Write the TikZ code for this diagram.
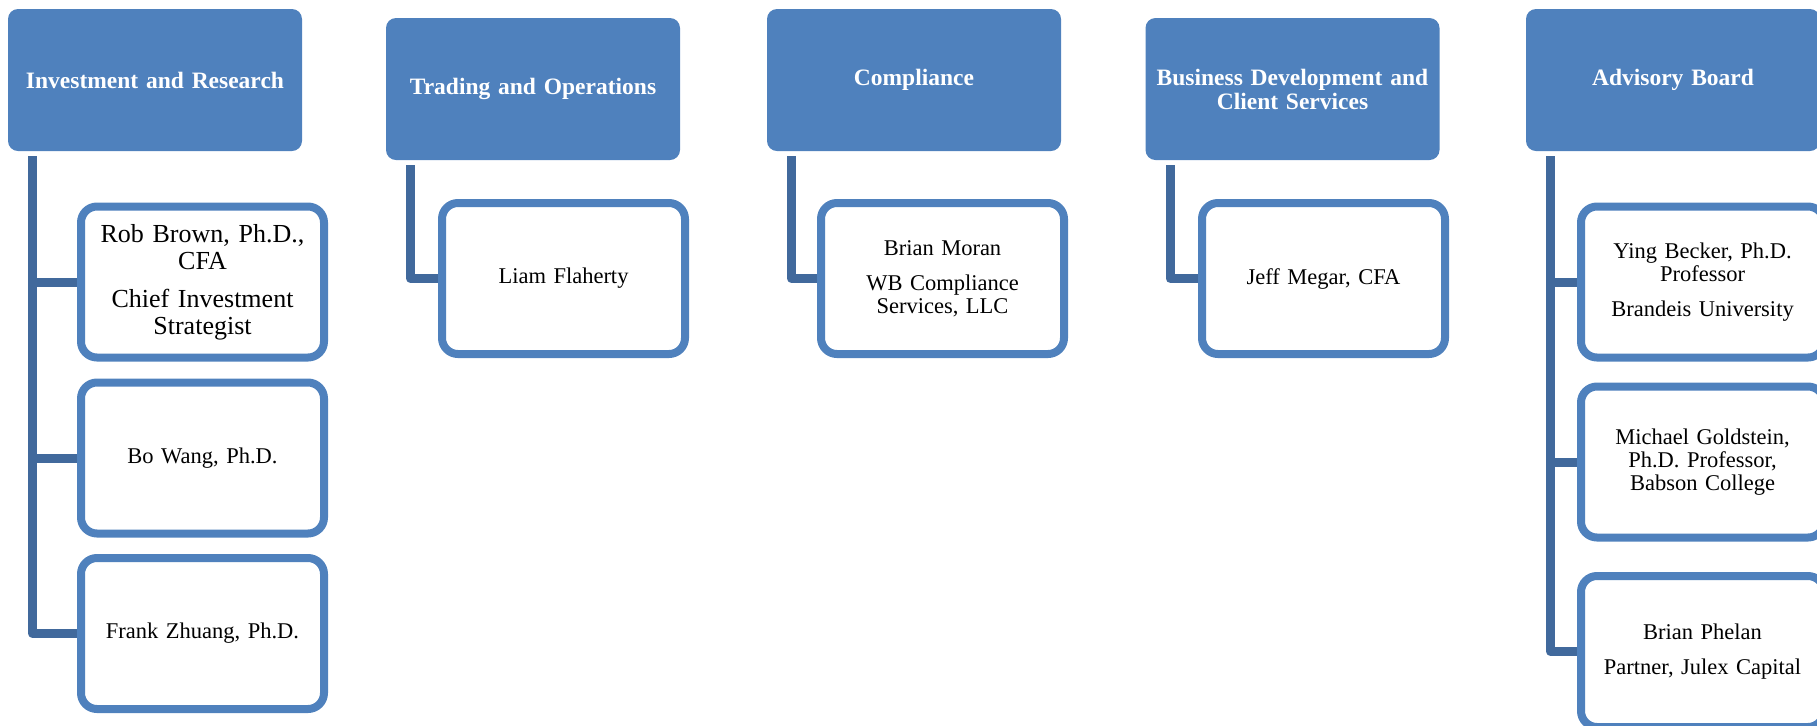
\documentclass[tikz,border=0pt]{standalone}
\usepackage{fontspec}
\setmainfont{Liberation Serif}
\usetikzlibrary{backgrounds}
\definecolor{hdr}{HTML}{4F81BD}
\definecolor{conn}{HTML}{41699C}
\begin{document}
\begin{tikzpicture}[x=0.5pt,y=-0.5pt,
  hbox/.style={fill=hdr, draw=none, rounded corners=5pt, minimum width=147pt, minimum height=71pt,
    text width=140pt, align=center, inner sep=0pt, text=white,
    font=\rmfamily\bfseries\fontsize{11.75}{12}\selectfont},
  cbox/.style={draw=hdr, line width=4pt, fill=white, rounded corners=8pt, minimum width=121.5pt,
    minimum height=75.5pt, text width=115pt, align=center, inner sep=0pt,
    font=\rmfamily\fontsize{11.25}{11.5}\selectfont},
  bigtext/.style={font=\rmfamily\fontsize{13}{13.5}\selectfont},
  link/.style={draw=conn, line width=4.5pt, line join=round}]
\useasboundingbox (0,0) rectangle (1817,725);
% headers
\node[hbox] (h1) at (155,80) {Investment and Research};
\node[hbox] (h2) at (533,89) {Trading and Operations};
\node[hbox] (h3) at (914,80) {Compliance};
\node[hbox] (h4) at (1292.5,89) {Business Development and\\ Client Services};
\node[hbox] (h5) at (1673,80) {Advisory Board};
% children
\node[cbox, bigtext] (c11) at (202.5,282) {Rob Brown, Ph.D.,\\ CFA\\[5.5pt] Chief Investment\\ Strategist};
\node[cbox] (c12) at (202.5,458) {Bo Wang, Ph.D.};
\node[cbox] (c13) at (202.5,633.5) {Frank Zhuang, Ph.D.};
\node[cbox] (c21) at (563.5,278.5) {Liam Flaherty};
\node[cbox] (c31) at (942.5,278.5) {Brian Moran\\[6pt] WB Compliance\\ Services, LLC};
\node[cbox] (c41) at (1323.5,278.5) {Jeff Megar, CFA};
\node[cbox] (c51) at (1702.5,282) {Ying Becker, Ph.D.\\ Professor\\[6pt] Brandeis University};
\node[cbox] (c52) at (1702.5,462) {Michael Goldstein,\\ Ph.D. Professor,\\ Babson College};
\node[cbox] (c53) at (1702.5,651.5) {Brian Phelan\\[6pt] Partner, Julex Capital};
% connectors
\begin{scope}[on background layer]
\draw[link] ([xshift=12.5pt,yshift=-2.5pt]h1.south west) |- (c11.west);
\draw[link] ([xshift=12.5pt,yshift=-2.5pt]h1.south west) |- (c12.west);
\draw[link] ([xshift=12.5pt,yshift=-2.5pt]h1.south west) |- (c13.west);
\draw[link] ([xshift=12.5pt,yshift=-2.5pt]h2.south west) |- (c21.west);
\draw[link] ([xshift=12.5pt,yshift=-2.5pt]h3.south west) |- (c31.west);
\draw[link] ([xshift=12.5pt,yshift=-2.5pt]h4.south west) |- (c41.west);
\draw[link] ([xshift=12.5pt,yshift=-2.5pt]h5.south west) |- (c51.west);
\draw[link] ([xshift=12.5pt,yshift=-2.5pt]h5.south west) |- (c52.west);
\draw[link] ([xshift=12.5pt,yshift=-2.5pt]h5.south west) |- (c53.west);
\end{scope}
\end{tikzpicture}
\end{document}
